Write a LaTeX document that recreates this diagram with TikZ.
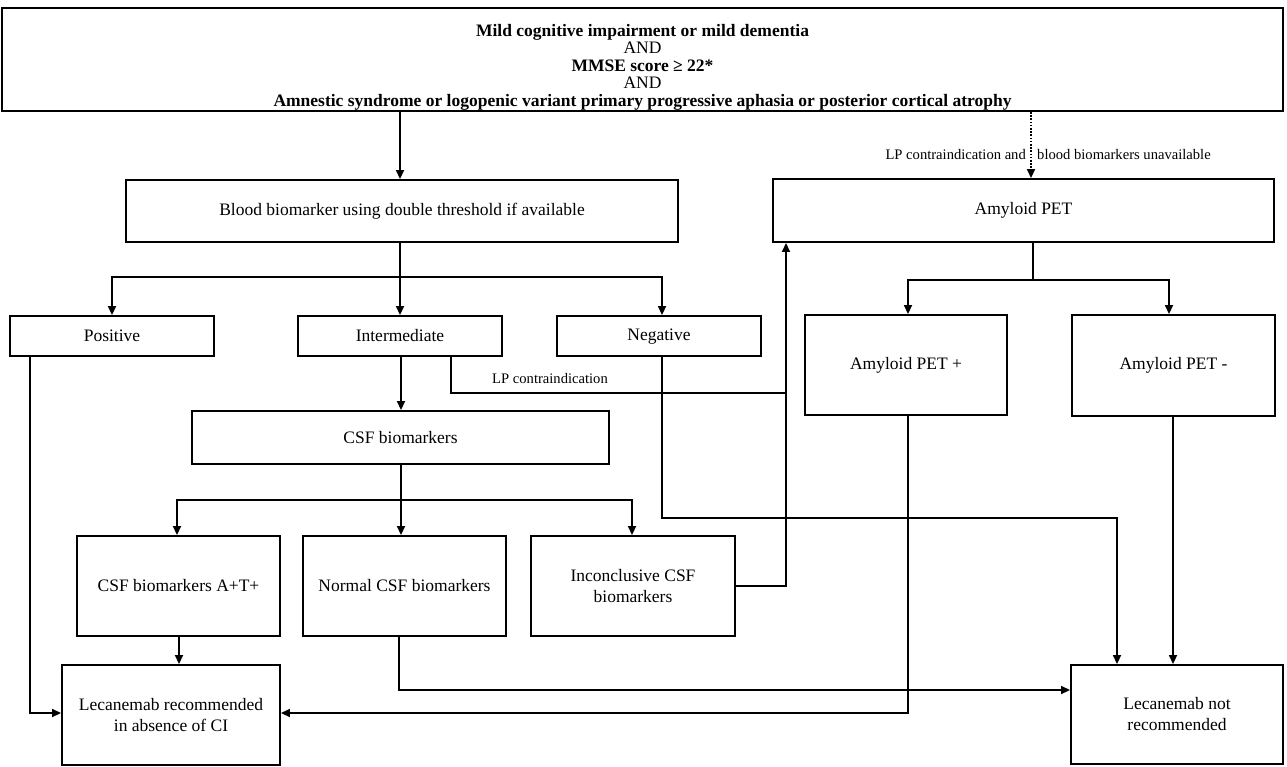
\documentclass[tikz,border=0pt]{standalone}
\usepackage{fontspec}
\setmainfont{Liberation Serif}
\usetikzlibrary{arrows.meta}
\begin{document}
\begin{tikzpicture}[x=1pt,y=-1pt,
  box/.style={draw, line width=1.9pt, inner sep=0pt, align=center,
    font=\fontsize{17.5}{21}\selectfont},
  conn/.style={line width=1.7pt},
  arr/.style={conn, -{Triangle[length=9pt,width=8pt]}},
  dotarr/.style={line width=1.6pt, dash pattern=on 1.6pt off 1.6pt, -{Triangle[length=9pt,width=8pt]}},
  small/.style={inner sep=0pt, font=\fontsize{14.6}{17}\selectfont}]
\useasboundingbox[fill=white] (0,0) rectangle (1287,766);

% boxes
\node[box, minimum width=1281pt, minimum height=103pt] (top) at (642.5,59.5) {};
\node[inner sep=0pt, align=center, font=\fontsize{17.5}{17.5}\selectfont] (toptext) at (642.5,67)
  {\textbf{Mild cognitive impairment or mild dementia}\\ AND\\ \textbf{MMSE score ≥ 22*}\\ AND\\
   \textbf{Amnestic syndrome or logopenic variant primary progressive aphasia or posterior cortical atrophy}};
\node[box, minimum width=552pt, minimum height=62pt] (blood) at (402,211) {Blood biomarker using double threshold if available};
\node[box, minimum width=501pt, minimum height=63pt] (pet) at (1023.5,210.5) {Amyloid PET};
\node[box, minimum width=204pt, minimum height=40pt] (pos) at (112,336) {Positive};
\node[box, minimum width=204pt, minimum height=40pt] (inter) at (400,336) {Intermediate};
\node[box, minimum width=204pt, minimum height=40pt] (neg) at (659,336) {\strut Negative};
\node[box, minimum width=417pt, minimum height=53pt] (csf) at (400.5,437.5) {CSF biomarkers};
\node[box, minimum width=203pt, minimum height=100pt] (atp) at (178.5,586) {CSF biomarkers A+T+};
\node[box, minimum width=203pt, minimum height=100pt] (norm) at (404.5,586) {Normal CSF biomarkers};
\node[box, minimum width=204pt, minimum height=100pt] (inc) at (633,586) {Inconclusive CSF\\biomarkers};
\node[box, minimum width=218pt, minimum height=100pt] (rec) at (171,715) {Lecanemab recommended\\in absence of CI};
\node[box, minimum width=212pt, minimum height=99pt] (notrec) at (1177,714.5) {Lecanemab not\\recommended};
\node[box, minimum width=202pt, minimum height=100pt] (petp) at (906,365) {Amyloid PET +};
\node[box, minimum width=203pt, minimum height=101pt] (petm) at (1173.5,365.5) {Amyloid PET -};

% labels
\node[small, anchor=east] (lbla) at (1026,155) {LP contraindication and};
\node[small, anchor=west] (lblb) at (1037,155) {blood biomarkers unavailable};
\node[small] (lblc) at (550,378) {LP contraindication};

% connectors
\draw[arr] (top.south -| 400,0) -- (blood.north -| 400,0);
\draw[dotarr] (top.south -| 1031,0) -- (pet.north -| 1031,0);

\draw[conn] (blood.south -| 400,0) -- (400,277);
\draw[arr] (400,277) -| (pos.north);
\draw[arr] (400,277) -- (inter.north -| 400,0);
\draw[arr] (400,277) -| (neg.north -| 662,0);

\draw[arr] (pos.south -| 30,0) |- (rec.west |- 0,713);
\draw[arr] (inter.south -| 401,0) -- (csf.north -| 401,0);
\draw[conn] (inter.south -| 451,0) |- (786,393);
\draw[arr] (inc.east |- 0,586) -| (pet.south -| 786,0);
\draw[arr] (neg.south -| 662,0) |- (1117,518) -- (notrec.north -| 1117,0);

\draw[conn] (csf.south -| 401,0) -- (401,500);
\draw[arr] (401,500) -| (atp.north -| 177,0);
\draw[arr] (401,500) -- (norm.north -| 401,0);
\draw[arr] (401,500) -| (inc.north -| 632,0);

\draw[arr] (atp.south -| 179,0) -- (rec.north -| 179,0);
\draw[arr] (norm.south -| 399,0) |- (notrec.west |- 0,690);

\draw[conn] (pet.south -| 1033,0) -- (1033,280);
\draw[arr] (1033,280) -| (petp.north -| 908,0);
\draw[arr] (1033,280) -| (petm.north -| 1169,0);

\draw[arr] (petp.south -| 908,0) |- (rec.east |- 0,713);
\draw[arr] (petm.south -| 1173,0) -- (notrec.north -| 1173,0);
\end{tikzpicture}
\end{document}
